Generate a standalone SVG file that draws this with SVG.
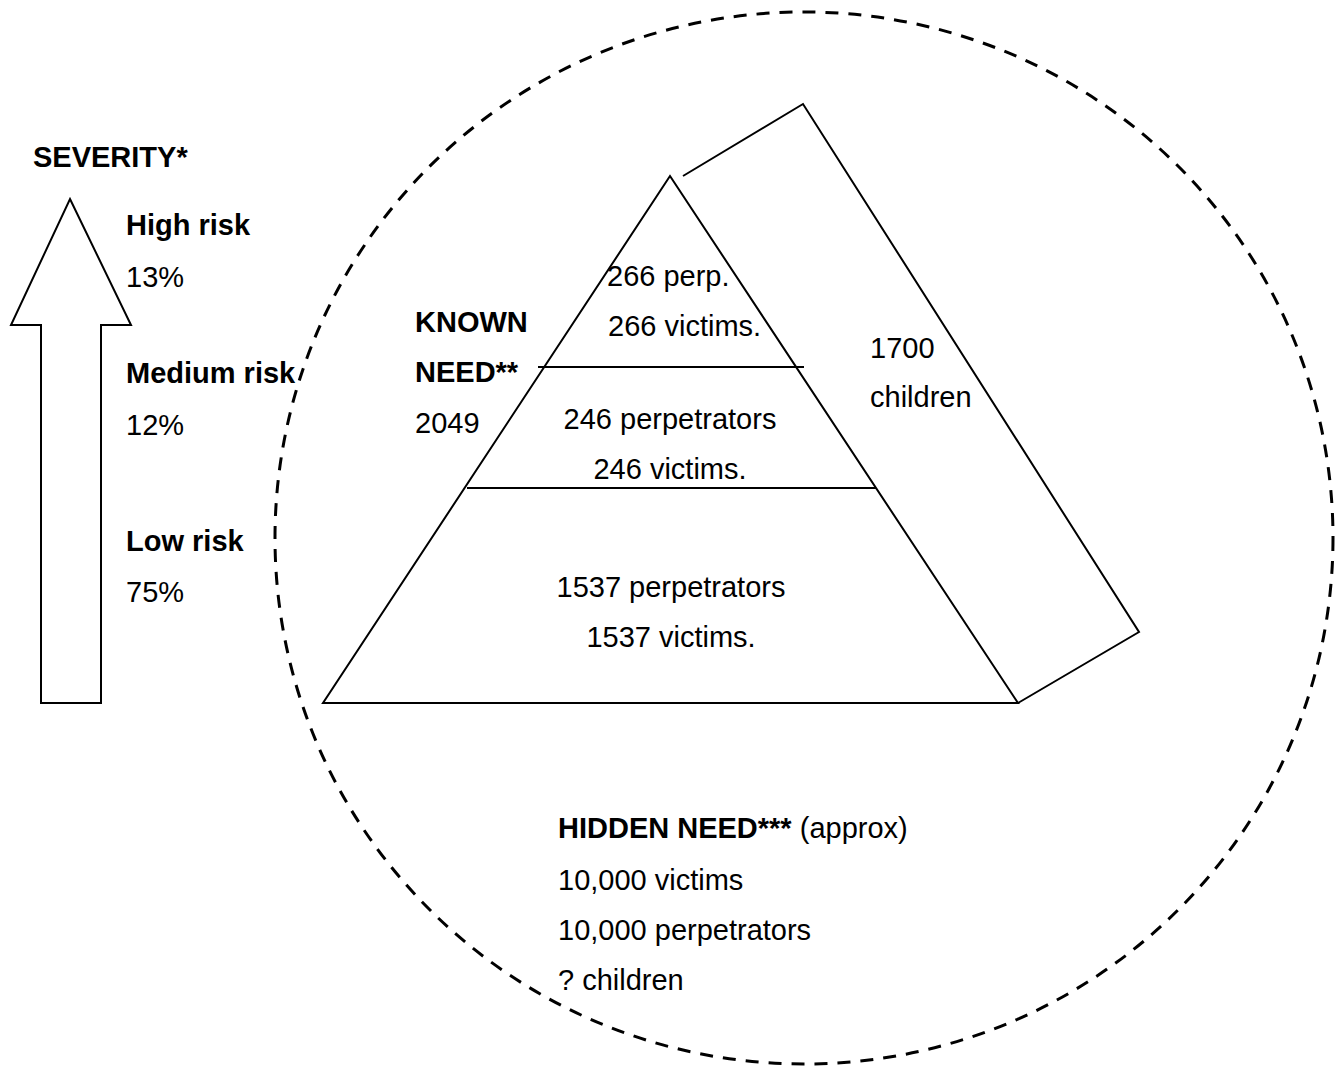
<svg xmlns="http://www.w3.org/2000/svg" width="1339" height="1066" viewBox="0 0 1339 1066">
  <style>
    text { font-family: "Liberation Sans", Arial, sans-serif; font-size: 29px; fill: #000; }
    .b { font-weight: bold; }
    .ln { fill: none; stroke: #000; stroke-width: 2; stroke-linejoin: miter; }
    .dash { fill: none; stroke: #000; stroke-width: 3; stroke-dasharray: 13 10; }
  </style>
  <rect width="1339" height="1066" fill="#fff"/>

  <!-- hidden need boundary -->
  <g id="hidden-need">
    <ellipse class="dash" cx="804" cy="538" rx="529" ry="526"/>
    <text x="558" y="838"><tspan class="b">HIDDEN NEED***</tspan> (approx)</text>
    <text x="558" y="890">10,000 victims</text>
    <text x="558" y="940">10,000 perpetrators</text>
    <text x="558" y="990">? children</text>
  </g>

  <!-- severity arrow -->
  <g id="severity">
    <path class="ln" d="M70,199 L131,325 L101,325 L101,703 L41,703 L41,325 L11,325 Z"/>
    <text class="b" x="33" y="167">SEVERITY*</text>
    <text class="b" x="126" y="235">High risk</text>
    <text x="126" y="287">13%</text>
    <text class="b" x="126" y="383">Medium risk</text>
    <text x="126" y="435">12%</text>
    <text class="b" x="126" y="551">Low risk</text>
    <text x="126" y="602">75%</text>
  </g>

  <!-- children prism side -->
  <g id="children">
    <path class="ln" d="M683,176 L803,104 L1139,632 L1018,703"/>
    <text x="870" y="358">1700</text>
    <text x="870" y="407">children</text>
  </g>

  <!-- known need pyramid -->
  <g id="pyramid">
    <path class="ln" d="M670,176 L1018,703 L323,703 Z"/>
    <line class="ln" x1="538" y1="367" x2="804" y2="367"/>
    <line class="ln" x1="467" y1="488" x2="876" y2="488"/>
    <text class="b" x="415" y="332">KNOWN</text>
    <text class="b" x="415" y="382">NEED**</text>
    <text x="415" y="433">2049</text>
  </g>

  <g id="tier-high">
    <text x="607" y="286">266 perp.</text>
    <text x="608" y="336">266 victims.</text>
  </g>
  <g id="tier-medium">
    <text x="670" y="429" text-anchor="middle">246 perpetrators</text>
    <text x="670" y="479" text-anchor="middle">246 victims.</text>
  </g>
  <g id="tier-low">
    <text x="671" y="597" text-anchor="middle">1537 perpetrators</text>
    <text x="671" y="647" text-anchor="middle">1537 victims.</text>
  </g>

  <g id="connectors"></g>
</svg>
